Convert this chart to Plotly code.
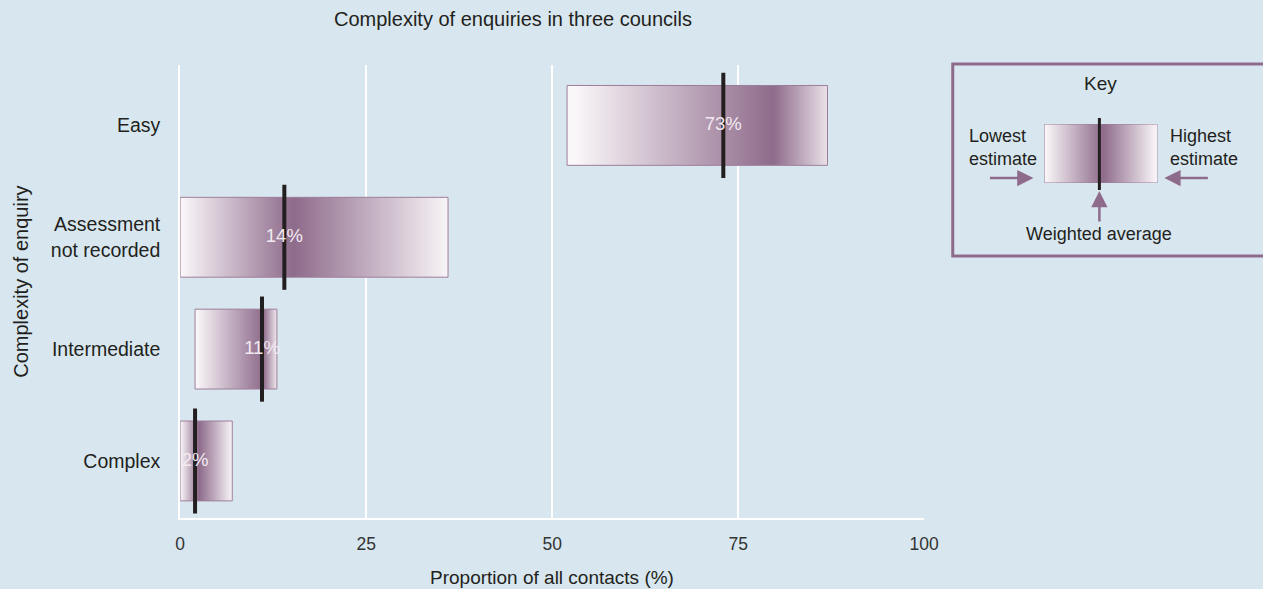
import plotly.graph_objects as go

# Enquiry complexity: range of estimates across three councils (%)
categories = ["Complex", "Intermediate", "Assessment<br>not recorded", "Easy"]
lowest = [0, 2, 0, 52]
highest = [7, 13, 36, 87]
weighted_avg = [2, 11, 14, 73]
value_labels = ["2%", "11%", "14%", "73%"]
x_ticks = [0, 25, 50, 75, 100]

# Styling
BG = "#d8e7ef"
DARK = "#8e6b8b"
LIGHT = "#fbf8fa"
EDGE = "#9d7d9a"
INK = "#231f20"
FONT = "Liberation Sans, Arial, sans-serif"
shade_peak = [2.5, 11, 15, 78.5]  # where each bar's shading is darkest
BAR_HALF = 0.357
LINE_HALF = 0.47

W, H = 1263, 589


def px_x(p):
    return p / W


def px_y(p):
    return 1 - p / H


fig = go.Figure()

for i, cat in enumerate(categories):
    lo, hi = lowest[i], highest[i]
    p = (shade_peak[i] - lo) / (hi - lo)
    fig.add_trace(go.Scatter(
        x=[lo, hi, hi, lo, lo],
        y=[i - BAR_HALF, i - BAR_HALF, i + BAR_HALF, i + BAR_HALF, i - BAR_HALF],
        mode="lines",
        fill="toself",
        fillgradient=dict(type="horizontal",
                          colorscale=[[0, LIGHT], [p, DARK], [1, LIGHT]],
                          start=lo, stop=hi),
        line=dict(color=EDGE, width=1),
        hoverinfo="skip", showlegend=False,
    ))

for i, cat in enumerate(categories):
    fig.add_trace(go.Scatter(
        x=[weighted_avg[i], weighted_avg[i]],
        y=[i - LINE_HALF, i + LINE_HALF],
        mode="lines", line=dict(color=INK, width=4),
        hoverinfo="skip", showlegend=False,
    ))

fig.add_trace(go.Scatter(
    x=weighted_avg, y=list(range(len(categories))),
    mode="text", text=value_labels,
    textfont=dict(family=FONT, size=18.5, color="#f2eaf0"),
    textposition="middle center",
    hoverinfo="skip", showlegend=False,
))

# Key: sample shaded bar on its own small axes
fig.add_trace(go.Scatter(
    x=[0, 1, 1, 0, 0], y=[0, 0, 1, 1, 0],
    mode="lines", fill="toself",
    fillgradient=dict(type="horizontal",
                      colorscale=[[0, LIGHT], [0.52, DARK], [1, LIGHT]]),
    line=dict(color=EDGE, width=1),
    xaxis="x2", yaxis="y2",
    hoverinfo="skip", showlegend=False,
))

fig.update_layout(
    width=W, height=H, autosize=False,
    margin=dict(l=0, r=0, t=0, b=0),
    paper_bgcolor=BG, plot_bgcolor=BG,
    font=dict(family=FONT, color=INK),
    xaxis=dict(
        domain=[px_x(178), px_x(934)], range=[0, 100],
        tickvals=x_ticks, ticktext=[str(t) for t in x_ticks],
        showgrid=True, gridcolor="white", gridwidth=2,
        zeroline=False, showline=True, linecolor="white", linewidth=2,
        ticks="", ticklabelstandoff=9,
        tickfont=dict(size=17.5, color="#333333"),
        fixedrange=True,
    ),
    yaxis=dict(
        domain=[px_y(518), px_y(65)], range=[-0.51, 3.54],
        tickvals=list(range(len(categories))), ticktext=categories,
        showgrid=False, zeroline=False,
        showline=True, linecolor="white", linewidth=2,
        ticks="", ticklabelstandoff=14,
        tickfont=dict(size=19.5, color=INK),
        fixedrange=True,
    ),
    xaxis2=dict(domain=[px_x(1056), px_x(1171)], range=[0, 1],
                visible=False, anchor="y2", fixedrange=True),
    yaxis2=dict(domain=[px_y(183), px_y(124)], range=[0, 1],
                visible=False, anchor="x2", fixedrange=True),
)

# Key box (runs off the right edge) and weighted-average marker
fig.add_shape(type="rect", xref="paper", yref="paper",
              x0=px_x(963), x1=px_x(1280), y0=px_y(256), y1=px_y(64),
              line=dict(color=DARK, width=3))
fig.add_shape(type="line", xref="paper", yref="paper",
              x0=px_x(1112), x1=px_x(1112), y0=px_y(190), y1=px_y(118),
              line=dict(color=INK, width=3))

texts = [
    dict(text="Complexity of enquiries in three councils", x=px_x(332), y=px_y(19),
         xanchor="left", yanchor="middle", font=dict(size=20, color=INK)),
    dict(text="Proportion of all contacts (%)", x=px_x(556), y=px_y(577),
         xanchor="center", yanchor="middle", font=dict(size=19, color=INK)),
    dict(text="Complexity of enquiry", x=px_x(16), y=px_y(282), textangle=-90,
         xanchor="center", yanchor="middle", font=dict(size=20, color=INK)),
    dict(text="Key", x=px_x(1113), y=px_y(83),
         xanchor="center", yanchor="middle", font=dict(size=19, color=INK)),
    dict(text="Lowest<br>estimate", x=px_x(977), y=px_y(148), align="left",
         xanchor="left", yanchor="middle", font=dict(size=18, color=INK)),
    dict(text="Highest<br>estimate", x=px_x(1182), y=px_y(148), align="left",
         xanchor="left", yanchor="middle", font=dict(size=18, color=INK)),
    dict(text="Weighted average", x=px_x(1112), y=px_y(234),
         xanchor="center", yanchor="middle", font=dict(size=18, color=INK)),
]
for t in texts:
    fig.add_annotation(xref="paper", yref="paper", showarrow=False, **t)

arrows = [
    dict(x=px_x(1045), y=px_y(178), ax=-45, ay=0),
    dict(x=px_x(1178), y=px_y(178), ax=45, ay=0),
    dict(x=px_x(1112), y=px_y(191), ax=0, ay=32),
]
for a in arrows:
    fig.add_annotation(xref="paper", yref="paper", text="", showarrow=True,
                       arrowhead=2, arrowsize=1.3, arrowwidth=2.5,
                       arrowcolor=DARK, **a)

fig.write_html("out.html")
